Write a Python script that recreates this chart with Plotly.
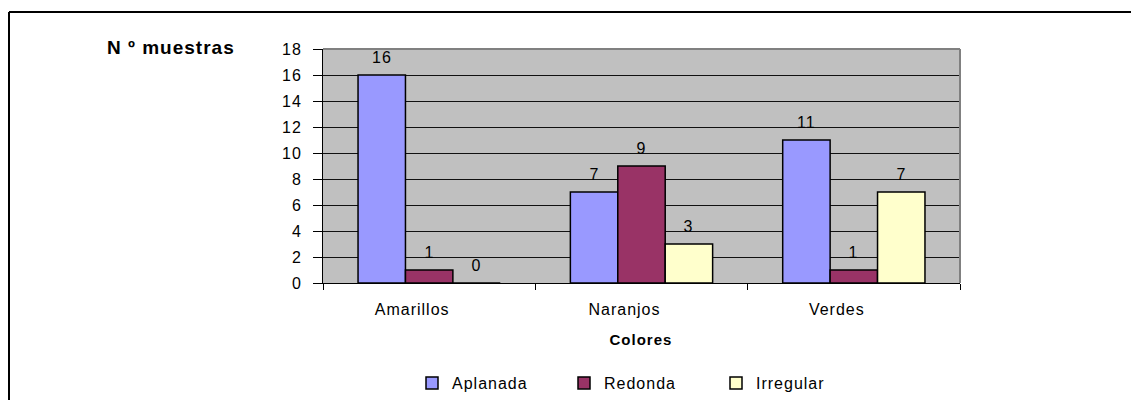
import plotly.graph_objects as go

# Sample counts by fruit colour and shape
categories = ["Amarillos", "Naranjos", "Verdes"]
aplanada = [16, 7, 11]
redonda = [1, 9, 1]
irregular = [0, 3, 7]
series_names = ["Aplanada", "Redonda", "Irregular"]
y_ticks = [0, 2, 4, 6, 8, 10, 12, 14, 16, 18]

series_values = [aplanada, redonda, irregular]
colors = ["#9999FF", "#993366", "#FFFFCC"]

W, H = 1131, 400
L, R, T, B = 323, 960, 49, 283  # plot area in pixels
pw, ph = R - L, B - T

def px_x(x):
    return (x - L) / pw

def px_y(y):
    return (B - y) / ph

FONT = "Arial, Liberation Sans, sans-serif"
FS = 16

fig = go.Figure()
for name, vals, col in zip(series_names, series_values, colors):
    fig.add_trace(go.Bar(
        x=categories, y=vals, name=name,
        marker=dict(color=col, line=dict(color="black", width=1.5)),
    ))

bargap = 0.33
bw = (1 - bargap) / len(series_names)
annotations = []
for si, vals in enumerate(series_values):
    off = (si - (len(series_names) - 1) / 2) * bw
    for ci, v in enumerate(vals):
        annotations.append(dict(
            x=ci + off, y=v, xref="x", yref="y", text=str(v),
            showarrow=False, xanchor="center", yanchor="bottom", yshift=7,
            font=dict(family=FONT, size=FS, color="black"),
        ))

# Axis titles
annotations.append(dict(
    x=px_x(171), y=px_y(47), xref="paper", yref="paper",
    xanchor="center", yanchor="middle",
    text="<b>N º muestras</b>", showarrow=False,
    font=dict(family=FONT, size=19, color="black"),
))
annotations.append(dict(
    x=px_x(641), y=px_y(339), xref="paper", yref="paper",
    xanchor="center", yanchor="middle",
    text="<b>Colores</b>", showarrow=False,
    font=dict(family=FONT, size=15, color="black"),
))

shapes = [
    # gray plot-area border on top and right
    dict(type="line", xref="paper", yref="paper", x0=0, x1=1, y0=1, y1=1,
         line=dict(color="#808080", width=2), layer="above"),
    dict(type="line", xref="paper", yref="paper", x0=1, x1=1, y0=0, y1=1,
         line=dict(color="#808080", width=2), layer="above"),
    # outer chart frame
    dict(type="line", xref="paper", yref="paper", x0=px_x(9), x1=px_x(1140),
         y0=px_y(12), y1=px_y(12), line=dict(color="black", width=2)),
    dict(type="line", xref="paper", yref="paper", x0=px_x(9), x1=px_x(9),
         y0=px_y(12), y1=px_y(410), line=dict(color="black", width=2)),
]

fig.update_layout(
    width=W, height=H,
    margin=dict(l=L, r=W - R, t=T, b=H - B, autoexpand=False),
    paper_bgcolor="white", plot_bgcolor="#C0C0C0",
    barmode="group", bargap=bargap, bargroupgap=0,
    font=dict(family=FONT, size=FS, color="black"),
    annotations=annotations, shapes=shapes,
    legend=dict(
        orientation="h", xref="container", yref="container",
        x=412 / W, y=1 - 383 / H,
        xanchor="left", yanchor="middle",
        entrywidth=107, entrywidthmode="pixels",
        font=dict(family=FONT, size=FS, color="black"),
        bgcolor="rgba(0,0,0,0)",
    ),
    xaxis=dict(
        type="category", tickson="boundaries", ticks="outside", ticklen=6,
        tickcolor="black", showline=True, linecolor="black", linewidth=1,
        showgrid=False, tickfont=dict(family=FONT, size=FS, color="black"),
        ticklabelstandoff=12, ticklabelshift=-17,
    ),
    yaxis=dict(
        range=[0, 18], tickvals=y_ticks, ticks="outside", ticklen=9,
        tickcolor="black", showline=True, linecolor="black", linewidth=1,
        showgrid=True, gridcolor="#111111", gridwidth=1, zeroline=False,
        tickfont=dict(family=FONT, size=FS, color="black"),
        ticklabelstandoff=8,
    ),
)

# Slightly widened character spacing for all chart text
spacing_js = """
var gd = document.getElementById('{plot_id}');
gd.querySelectorAll('text').forEach(function (t) {
    t.style.letterSpacing = '1px';
});
"""

fig.write_html("out.html", post_script=spacing_js)
